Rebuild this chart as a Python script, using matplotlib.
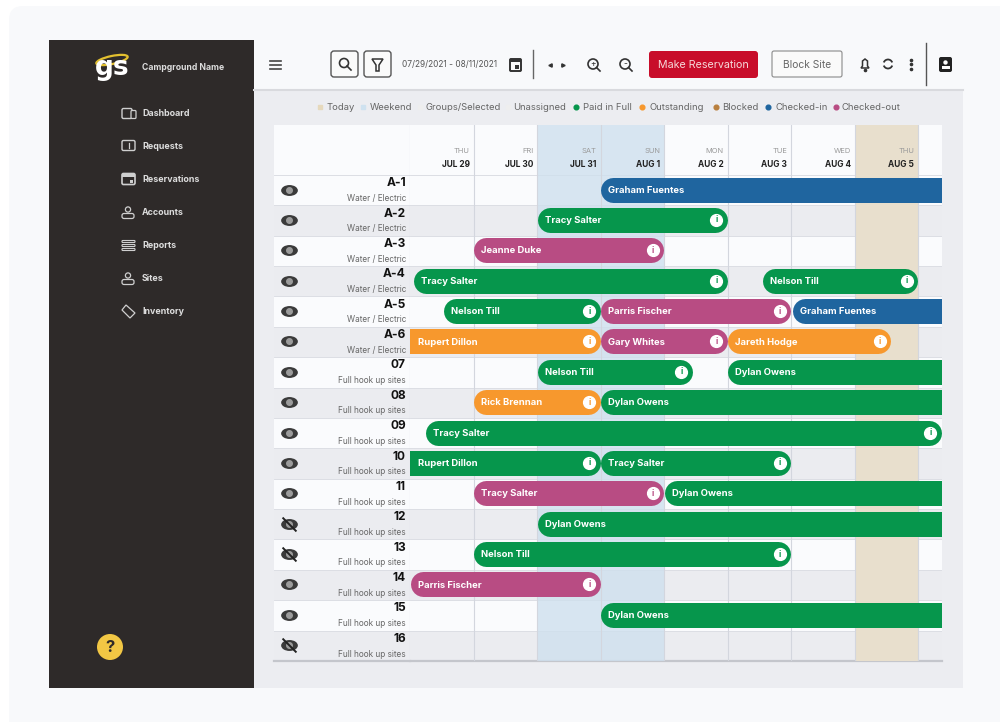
import matplotlib
matplotlib.use('Agg')
import matplotlib.pyplot as plt
from matplotlib.patches import FancyBboxPatch, Rectangle, Circle, Ellipse, Polygon, Arc
from matplotlib.path import Path
from matplotlib.transforms import Affine2D

plt.rcParams['font.family'] = ['Inter', 'DejaVu Sans']

#===============================================
#       data
#===============================================
days = ['THU', 'FRI', 'SAT', 'SUN', 'MON', 'TUE', 'WED', 'THU']
dates = ['JUL 29', 'JUL 30', 'JUL 31', 'AUG 1', 'AUG 2', 'AUG 3', 'AUG 4', 'AUG 5']

sites = ['A-1', 'A-2', 'A-3', 'A-4', 'A-5', 'A-6', '07', '08', '09', '10', '11', '12', '13', '14', '15', '16']
site_types = ['Water / Electric'] * 6 + ['Full hook up sites'] * 10
hidden = [False] * 11 + [True, True, False, False, True]

# one entry per booking, ends past the last column run off the chart
book_row = [0, 1, 2, 3, 3, 4, 4, 4, 5, 5, 5, 6, 6, 7, 7, 8, 9, 9, 10, 10, 11, 12, 13, 14]
book_name = ['Graham Fuentes', 'Tracy Salter', 'Jeanne Duke', 'Tracy Salter', 'Nelson Till',
             'Nelson Till', 'Parris Fischer', 'Graham Fuentes', 'Rupert Dillon', 'Gary Whites',
             'Jareth Hodge', 'Nelson Till', 'Dylan Owens', 'Rick Brennan', 'Dylan Owens',
             'Tracy Salter', 'Rupert Dillon', 'Tracy Salter', 'Tracy Salter', 'Dylan Owens',
             'Dylan Owens', 'Nelson Till', 'Parris Fischer', 'Dylan Owens']
book_start = [3.0, 2.0, 1.0, 0.05, 5.55, 0.53, 3.0, 6.02, -1.0, 3.0, 5.0, 2.0, 5.0, 1.0, 3.0,
              0.25, -1.0, 3.0, 1.0, 4.0, 2.0, 1.0, 0.0, 3.0]
book_end = [10, 5.0, 4.0, 5.0, 8.0, 3.0, 6.0, 10, 3.0, 5.0, 7.57, 4.45, 10, 3.0, 10,
            8.37, 3.0, 6.0, 4.0, 10, 10, 6.0, 3.0, 10]
book_status = ['in', 'paid', 'out', 'paid', 'paid', 'paid', 'out', 'in', 'due', 'out', 'due', 'paid',
               'paid', 'due', 'paid', 'paid', 'paid', 'paid', 'out', 'paid', 'paid', 'paid', 'out', 'paid']

menu_items = ['Dashboard', 'Requests', 'Reservations', 'Accounts', 'Reports', 'Sites', 'Inventory']
legend_labels = ['Today', 'Weekend', 'Groups/Selected', 'Unassigned', 'Paid in Full',
                 'Outstanding', 'Blocked', 'Checked-in', 'Checked-out']

#colors
GREEN = '#06964c'
ORANGE = '#f7982d'
PURPLE = '#b84c83'
BLUE = '#1f659f'
BROWN = '#b9803f'
DARK = '#2e2a29'
TEXT = '#222222'
GREY = '#8a8a8a'
status_color = {'paid': GREEN, 'due': ORANGE, 'out': PURPLE, 'in': BLUE}

#===============================================
#       page, sidebar, toolbar (pixel coords)
#===============================================
fig = plt.figure(figsize=(10, 7.22), dpi=100, facecolor='#ffffff')
page = fig.add_axes([0, 0, 1, 1])
page.set_xlim(0, 1000)
page.set_ylim(722, 0)
page.axis('off')


def box(x0, y0, x1, y1, fc='none', ec='none', lw=1.0, r=2):
    page.add_patch(FancyBboxPatch((x0 + r, y0 + r), x1 - x0 - 2 * r, y1 - y0 - 2 * r,
                                  boxstyle='round,pad=%f,rounding_size=%f' % (r, r),
                                  fc=fc, ec=ec, lw=lw))


box(9, 6, 1012, 740, fc='#f8f9fb', r=14)
page.add_patch(Rectangle((254, 90), 709, 598, fc='#ecedf1', ec='none'))
page.plot([254, 963], [90, 90], color='#d9dade', lw=1.5)
page.add_patch(Rectangle((49, 40), 205, 648, fc=DARK, ec='none'))

# logo
page.text(112, 68, 'gs', color='white', fontsize=19, fontweight='bold', ha='center', va='center',
          family=['DejaVu Sans'])
page.add_patch(Ellipse((112, 60), 32, 8, angle=-12, fc='none', ec='#e3c02f', lw=1.6))
page.text(142, 67.5, 'Campground Name', color='#dddddd', fontsize=6.2, fontweight='bold', va='center')

# menu
for i, item in enumerate(menu_items):
    y = 113.5 + 33 * i
    page.text(142, y, item, color='#dddddd', fontsize=6.4, fontweight='bold', va='center')
    if item == 'Inventory':
        page.add_patch(Polygon([(122, 310), (126, 305), (135, 313), (130, 318)], fc='none', ec='#cfcfcf', lw=0.9))
    elif item in ('Accounts', 'Sites'):
        page.add_patch(Circle((128, y - 3), 2.6, fc='none', ec='#cfcfcf', lw=0.9))
        box(122, y + 1, 134, y + 6, ec='#cfcfcf', lw=0.9, r=2)
    elif item == 'Reports':
        for k in range(3):
            box(122, y - 5 + 4 * k, 135, y - 3 + 4 * k, ec='#cfcfcf', lw=0.8, r=0.8)
    elif item == 'Reservations':
        box(122, y - 6, 135, y + 5, ec='#cfcfcf', lw=1.2, r=1.5)
        page.add_patch(Rectangle((122, y - 6), 13, 3, fc='#cfcfcf', ec='none'))
        page.add_patch(Rectangle((130, y), 3, 3, fc='#cfcfcf', ec='none'))
    elif item == 'Requests':
        box(122, y - 6, 135, y + 4, ec='#cfcfcf', lw=1.0, r=1.5)
        page.plot([128.5, 128.5], [y - 4, y + 1], color='#cfcfcf', lw=0.9)
    else:
        box(122, y - 5, 132, y + 5, ec='#cfcfcf', lw=1.0, r=1.5)
        box(131, y - 3, 136, y + 5, fc=DARK, ec='#cfcfcf', lw=0.9, r=1)

page.add_patch(Circle((110, 647), 13, fc='#f2c744', ec='none'))
page.text(110, 647.5, '?', color=DARK, fontsize=12, fontweight='bold', ha='center', va='center')

# toolbar
for k in range(3):
    page.plot([270, 281], [61 + 4 * k, 61 + 4 * k], color='#444444', lw=1.2)
box(331, 51, 358, 77, fc='#fafafa', ec='#555555', lw=1.0, r=3)
box(364, 51, 391, 77, fc='#fafafa', ec='#555555', lw=1.0, r=3)
page.add_patch(Circle((344, 63), 4.5, fc='none', ec='#333333', lw=1.2))
page.plot([347, 351], [66, 70], color='#333333', lw=1.2)
page.add_patch(Polygon([(372, 59), (383, 59), (379, 65), (379, 71), (376, 71), (376, 65)], fc='none', ec='#333333', lw=1.1))
page.text(402, 65, '07/29/2021 - 08/11/2021', color='#555555', fontsize=6.0, va='center')
box(510, 59, 521, 71, fc='#fafafa', ec='#333333', lw=1.4, r=1)
page.add_patch(Rectangle((510, 59), 11, 3, fc='#333333', ec='none'))
page.add_patch(Rectangle((515, 65), 4, 4, fc='#333333', ec='none'))
page.plot([549.5], [65], ls='none', marker='<', ms=2.4, color='#333333')
page.plot([563], [65], ls='none', marker='>', ms=2.4, color='#333333')
page.plot([533, 533], [50, 78], color='#666666', lw=1.0)
for x, sign in zip([593, 625], ['+', '-']):
    page.add_patch(Circle((x, 64), 5, fc='none', ec='#333333', lw=1.2))
    page.plot([x + 3.5, x + 7], [67.5, 71], color='#333333', lw=1.2)
    page.text(x, 64, sign, color='#333333', fontsize=6, ha='center', va='center')
box(649, 51, 758, 78, fc='#c80d2a', r=3)
page.text(703.5, 65, 'Make Reservation', color='#f6dada', fontsize=7.7, ha='center', va='center')
box(772, 51, 842, 77, fc='#fafafa', ec='#8a8a8a', lw=0.8, r=2)
page.text(807, 65, 'Block Site', color='#666666', fontsize=7.4, ha='center', va='center')
# bell
page.add_patch(Polygon([(861, 68), (862.5, 66), (862.5, 61), (865, 59), (867.5, 61), (867.5, 66), (869, 68)],
                       fc='none', ec='#333333', lw=1.1))
page.plot([865], [70], ls='none', marker='o', ms=1.6, color='#333333')
# refresh
page.add_patch(Arc((888, 64), 9, 9, theta1=20, theta2=160, ec='#333333', lw=1.3))
page.add_patch(Arc((888, 64), 9, 9, theta1=200, theta2=340, ec='#333333', lw=1.3))
page.plot([911, 911, 911], [59.5, 64, 68.5], ls='none', marker='o', ms=1.6, color='#333333')
page.plot([926, 926], [43, 85], color='#555555', lw=1.0)
box(939, 57, 952, 72, fc='#222222', r=2)
page.add_patch(Circle((945.5, 62.5), 2.2, fc='white', ec='none'))
page.add_patch(Rectangle((941.5, 66), 8, 2.5, fc='white', ec='none'))

# legend row
marker_x = [320, 363, 420, 508, 576, 642, 715.5, 768, 836]
text_x = [327, 370, 426, 513, 583, 649, 722, 775, 842]
marker_col = ['#e6d9bd', '#cfe2f0', '#eeeeee', '#eeeeee', GREEN, ORANGE, BROWN, BLUE, PURPLE]
for i, label in enumerate(legend_labels):
    page.plot(marker_x[i], 107, ls='none', marker='s' if i < 4 else 'o', ms=3.4, color=marker_col[i])
    page.text(text_x[i], 107, label, color='#666666', fontsize=6.8, va='center')

#===============================================
#       schedule
#===============================================
n_rows = len(sites)
head = 50.0 / 30.4  # header height in rows
ymin = -head
last_x = 532.0 / 63.5

ax = fig.add_axes([0.410, 1 - 661 / 722, 0.532, 536 / 722])
ax.set_xlim(0, last_x)
ax.set_ylim(n_rows, ymin)
ax.axis('off')
ax.set_facecolor('none')

ax.add_patch(Rectangle((0, ymin), last_x, head, fc='#fafbfd', ec='none', zorder=0))
for r in range(n_rows):
    ax.axhspan(r, r + 1, color='#fafbfd' if r % 2 == 0 else '#ebecf0', lw=0, zorder=0)
    ax.axhline(r, color='#dcdee4', lw=0.7, zorder=1)
ax.axhline(n_rows, color='#c4c6cc', lw=1.6, zorder=1, clip_on=False)

ax.axvspan(2, 4, color='#cfe0ee', alpha=0.8, lw=0, zorder=1)
ax.axvspan(7, 8, color='#e8dfcd', lw=0, zorder=1)
for d in range(1, 9):
    ax.axvline(d, color='#d3d6de', lw=0.8, zorder=2)

for d in range(len(days)):
    ax.text(d + 0.94, -0.79, days[d], color='#9a9a9a', fontsize=5.4, ha='right', va='center')
    ax.text(d + 0.94, -0.33, dates[d], color=TEXT, fontsize=6, fontweight='bold', ha='right', va='center')

radius = 0.197
for i in range(len(book_name)):
    y = book_row[i] + 0.5 - 0.02
    color = status_color[book_status[i]]
    ax.plot([book_start[i] + radius, book_end[i] - radius], [y, y], color=color, lw=18,
            solid_capstyle='round', zorder=3)
    ax.text(max(book_start[i], 0) + 0.12, y + 0.02, book_name[i], color='white', fontsize=6.8,
            fontweight='bold', va='center', zorder=4)
    if book_end[i] < last_x:
        ax.plot(book_end[i] - 0.175, y, ls='none', marker='o', ms=8.5, color='white', zorder=4)
        ax.text(book_end[i] - 0.175, y, 'i', color=color, fontsize=6, fontweight='bold',
                ha='center', va='center', zorder=5)

# site labels
lab = fig.add_axes([0.274, 1 - 661 / 722, 0.136, 536 / 722])
lab.set_xlim(0, 1)
lab.set_ylim(n_rows, ymin)
lab.axis('off')
lab.add_patch(Rectangle((0, ymin), 1, head, fc='#fafbfd', ec='none', zorder=0))

eye = Path.unit_circle().transformed(Affine2D().scale(1, 0.62))
slash = Path([(-0.9, 0.9), (0.9, -0.9)])
for r in range(n_rows):
    lab.axhspan(r, r + 1, color='#fafbfd' if r % 2 == 0 else '#ebecf0', lw=0, zorder=0)
    lab.axhline(r, color='#dcdee4', lw=0.7, zorder=1)
    yc = r + 0.5 - 0.02
    lab.plot(0.11, yc, ls='none', marker=eye, ms=11, color='#3a3a3a', zorder=2)
    lab.plot(0.11, yc, ls='none', marker='o', ms=4, color='#9c9c9c', zorder=3)
    if hidden[r]:
        lab.plot(0.11, yc, ls='none', marker=slash, ms=10, mfc='none', mec='#222222', mew=1.4, zorder=4)
    lab.text(0.97, r + 0.27, sites[r], color='#111111', fontsize=8.6, fontweight='bold', ha='right', va='center')
    lab.text(0.97, r + 0.77, site_types[r], color='#666666', fontsize=5.9, ha='right', va='center')
lab.axhline(n_rows, color='#c4c6cc', lw=1.6, zorder=1, clip_on=False)
lab.axvline(1, color='#d3d6de', lw=0.8, zorder=1)

fig.savefig('out.png', dpi=100, facecolor=fig.get_facecolor())
